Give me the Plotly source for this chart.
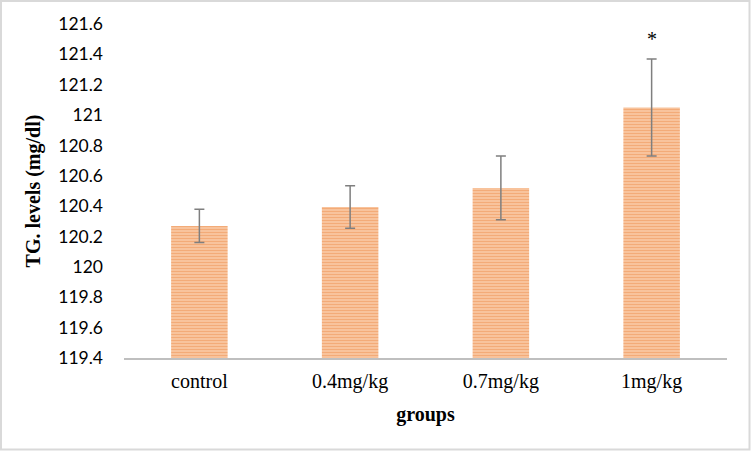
import plotly.graph_objects as go

groups = ["control", "0.4mg/kg", "0.7mg/kg", "1mg/kg"]
tg_levels = [120.27, 120.395, 120.52, 121.05]
tg_errors = [0.11, 0.14, 0.21, 0.32]
significance = ["", "", "", "*"]
y_ticks = [119.4, 119.6, 119.8, 120.0, 120.2, 120.4, 120.6, 120.8, 121.0, 121.2, 121.4, 121.6]
y_tick_labels = ["119.4", "119.6", "119.8", "120", "120.2", "120.4", "120.6", "120.8", "121", "121.2", "121.4", "121.6"]

W, H = 751, 451
ML, MR, MT, MB = 124, 24, 24, 93
PW, PH = W - ML - MR, H - MT - MB

fig = go.Figure()
fig.add_trace(go.Bar(
    x=groups,
    y=[v - 119.4 for v in tg_levels],
    base=119.4,
    width=0.375,
    marker=dict(
        color="#F5AE7C",
        line=dict(width=0),
        pattern=dict(shape="-", fgcolor="#EE8A48", bgcolor="#F9CCA8", size=3, solidity=0.5),
    ),
    error_y=dict(type="data", array=tg_errors, visible=True, color="#7F7F7F", thickness=1.5, width=5),
    hoverinfo="skip",
))

for g, v, e, s in zip(groups, tg_levels, tg_errors, significance):
    if s:
        fig.add_annotation(x=g, y=v + e + 0.13, text=s, showarrow=False,
                           font=dict(family="Liberation Serif", size=20, color="#000000"),
                           yanchor="middle")

# outer border of the chart area
def px2paper_x(px):
    return (px - ML) / PW

def px2paper_y(py):
    return (H - MB - py) / PH

fig.add_shape(type="rect", xref="paper", yref="paper",
              x0=px2paper_x(1), x1=px2paper_x(749.5), y0=px2paper_y(449.5), y1=px2paper_y(1),
              line=dict(color="#D9D9D9", width=2), fillcolor="rgba(0,0,0,0)", layer="below")

fig.update_layout(
    width=W, height=H,
    margin=dict(l=ML, r=MR, t=MT, b=MB, pad=0),
    paper_bgcolor="white", plot_bgcolor="white",
    showlegend=False,
    bargap=0.625,
    xaxis=dict(
        type="category",
        showgrid=False,
        showline=True, linecolor="#BFBFBF", linewidth=2,
        ticks="", ticklabelstandoff=4,
        tickfont=dict(family="Liberation Serif", size=20, color="#000000"),
        title=dict(text="<b>groups</b>", font=dict(family="Liberation Serif", size=20, color="#000000"), standoff=15),
        range=[-0.5, 3.5],
    ),
    yaxis=dict(
        range=[119.4, 121.6],
        tickvals=y_ticks, ticktext=y_tick_labels,
        showgrid=False, zeroline=False, showline=False,
        ticks="", ticklabelstandoff=20,
        tickfont=dict(family="Lato", size=17.5, color="#000000"),
        title=dict(text="<b>TG. levels (mg/dl)</b>", font=dict(family="Liberation Serif", size=20, color="#000000"), standoff=12),
    ),
)

fig.write_html("out.html", config={"displayModeBar": False},
               post_script="document.body.style.margin='0';")
